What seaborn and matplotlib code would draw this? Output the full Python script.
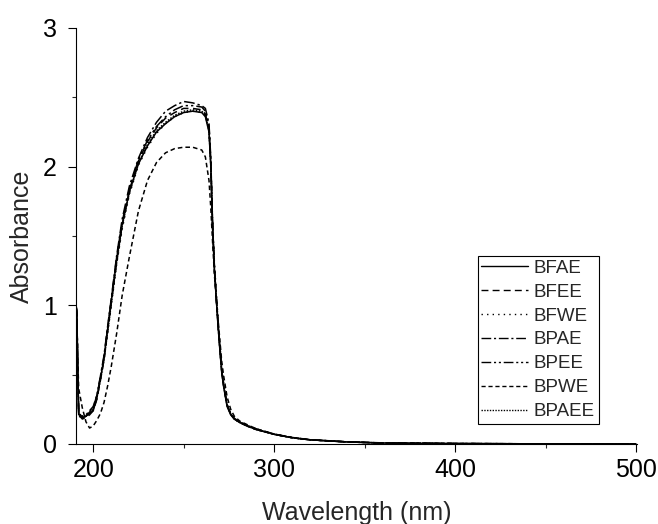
import numpy as np
import pandas as pd
import seaborn as sns
import matplotlib.pyplot as plt
from matplotlib.ticker import MultipleLocator

# wavelength grid (nm)
wl = [190.5, 191, 191.5, 192, 194, 196, 198, 200, 202, 204, 206, 208, 210, 213, 216,
      220, 225, 230, 235, 240, 245, 250, 255, 260, 262, 264, 265, 266, 267, 268,
      269, 270, 271, 272, 274, 276, 278, 281, 285, 290, 300, 310, 320, 340, 360,
      400, 450, 500]

bfae = [1.00, 0.95, 0.50, 0.22, 0.19, 0.20, 0.22, 0.24, 0.33, 0.47, 0.62, 0.83, 1.03, 1.33, 1.58,
        1.82, 2.02, 2.15, 2.25, 2.31, 2.36, 2.39, 2.40, 2.39, 2.36, 2.25, 2.00, 1.55, 1.25, 1.05,
        0.85, 0.68, 0.52, 0.42, 0.27, 0.21, 0.18, 0.155, 0.13, 0.105, 0.07, 0.045, 0.03, 0.015, 0.007,
        0.003, 0.001, 0.0]
bfee = [1.00, 0.93, 0.48, 0.21, 0.18, 0.19, 0.21, 0.24, 0.32, 0.46, 0.61, 0.82, 1.02, 1.32, 1.58,
        1.83, 2.04, 2.18, 2.28, 2.35, 2.39, 2.42, 2.42, 2.41, 2.38, 2.27, 2.03, 1.58, 1.28, 1.07,
        0.87, 0.70, 0.54, 0.43, 0.28, 0.22, 0.185, 0.16, 0.135, 0.11, 0.072, 0.047, 0.031, 0.016, 0.008,
        0.003, 0.001, 0.0]
bfwe = [0.98, 0.90, 0.45, 0.21, 0.20, 0.21, 0.23, 0.26, 0.34, 0.47, 0.61, 0.80, 1.00, 1.30, 1.55,
        1.80, 2.01, 2.14, 2.24, 2.31, 2.36, 2.39, 2.40, 2.39, 2.37, 2.27, 2.03, 1.60, 1.30, 1.10,
        0.90, 0.72, 0.56, 0.45, 0.29, 0.22, 0.19, 0.16, 0.135, 0.11, 0.072, 0.046, 0.03, 0.015, 0.007,
        0.003, 0.001, 0.0]
bpae = [1.00, 0.96, 0.52, 0.23, 0.19, 0.20, 0.23, 0.26, 0.35, 0.49, 0.64, 0.85, 1.05, 1.36, 1.62,
        1.86, 2.06, 2.21, 2.32, 2.40, 2.44, 2.47, 2.46, 2.44, 2.42, 2.31, 2.06, 1.58, 1.27, 1.06,
        0.86, 0.69, 0.53, 0.43, 0.28, 0.215, 0.18, 0.155, 0.13, 0.105, 0.07, 0.045, 0.03, 0.015, 0.007,
        0.003, 0.001, 0.0]
bpee = [1.00, 0.94, 0.50, 0.22, 0.20, 0.21, 0.24, 0.27, 0.35, 0.48, 0.63, 0.84, 1.04, 1.35, 1.60,
        1.84, 2.05, 2.19, 2.29, 2.36, 2.41, 2.44, 2.44, 2.43, 2.40, 2.29, 2.04, 1.57, 1.27, 1.06,
        0.86, 0.69, 0.53, 0.43, 0.28, 0.215, 0.18, 0.155, 0.13, 0.105, 0.07, 0.045, 0.03, 0.015, 0.007,
        0.003, 0.001, 0.0]
bpwe = [1.00, 0.90, 0.60, 0.40, 0.26, 0.16, 0.115, 0.13, 0.17, 0.22, 0.30, 0.42, 0.56, 0.80, 1.07,
        1.35, 1.68, 1.90, 2.03, 2.10, 2.13, 2.14, 2.14, 2.12, 2.07, 1.90, 1.70, 1.45, 1.22, 1.05,
        0.90, 0.75, 0.60, 0.50, 0.34, 0.25, 0.20, 0.165, 0.14, 0.11, 0.07, 0.045, 0.03, 0.015, 0.007,
        0.003, 0.001, 0.0]
bpaee = [0.99, 0.92, 0.47, 0.20, 0.19, 0.20, 0.22, 0.25, 0.33, 0.46, 0.61, 0.81, 1.01, 1.31, 1.57,
         1.81, 2.02, 2.16, 2.26, 2.32, 2.37, 2.40, 2.41, 2.40, 2.37, 2.26, 2.01, 1.56, 1.26, 1.06,
         0.86, 0.69, 0.53, 0.43, 0.28, 0.215, 0.18, 0.155, 0.13, 0.105, 0.07, 0.045, 0.03, 0.015, 0.007,
         0.003, 0.001, 0.0]

names = ["BFAE", "BFEE", "BFWE", "BPAE", "BPEE", "BPWE", "BPAEE"]
series = [bfae, bfee, bfwe, bpae, bpee, bpwe, bpaee]

df = pd.concat([pd.DataFrame({"wl": wl, "A": s, "sample": n}) for n, s in zip(names, series)],
               ignore_index=True)

dashes = {
    "BFAE": "",
    "BFEE": (5, 3),
    "BFWE": (1, 3),
    "BPAE": (7, 2, 1.5, 2),
    "BPEE": (7, 2, 1.5, 2, 1.5, 2),
    "BPWE": (3, 2),
    "BPAEE": (1, 1),
}

sns.set_style("ticks")
plt.rcParams["font.family"] = ["Liberation Sans", "DejaVu Sans"]

fig = plt.figure(figsize=(6.58, 5.24), dpi=100)
ax = fig.add_axes([0.1155, 0.1527, 0.8525, 0.7939])

sns.lineplot(data=df, x="wl", y="A", hue="sample", style="sample", hue_order=names,
             style_order=names, palette=["black"] * 7, dashes=dashes, linewidth=1.1,
             estimator=None, sort=False, ax=ax)

ax.set_xlim(190.5, 500.5)
ax.set_ylim(0, 3)
ax.set_xticks([200, 300, 400, 500])
ax.set_yticks([0, 1, 2, 3])
ax.xaxis.set_minor_locator(MultipleLocator(50))
ax.yaxis.set_minor_locator(MultipleLocator(0.5))
ax.tick_params(which="major", direction="out", length=6, width=0.8, labelsize=18,
               colors="black")
ax.tick_params(axis="x", which="major", pad=4)
ax.tick_params(axis="y", which="major", pad=8)
ax.tick_params(which="minor", direction="out", length=3, width=0.8)
for side in ["left", "bottom"]:
    ax.spines[side].set_linewidth(0.8)
    ax.spines[side].set_color("black")
sns.despine(ax=ax)

ax.set_xlabel("Wavelength (nm)", fontsize=18, labelpad=14)
ax.set_ylabel("Absorbance", fontsize=18, labelpad=6)

leg = ax.legend(loc="upper right", bbox_to_anchor=(0.932, 0.452), fontsize=13.5,
                frameon=True, fancybox=False, edgecolor="black", framealpha=1,
                handlelength=2.5, handletextpad=0.3, labelspacing=0.36, borderpad=0.2,
                borderaxespad=0)
leg.get_frame().set_linewidth(0.8)
for h in leg.get_lines():
    h.set_linewidth(1.0)

fig.savefig("out.png", dpi=100)
